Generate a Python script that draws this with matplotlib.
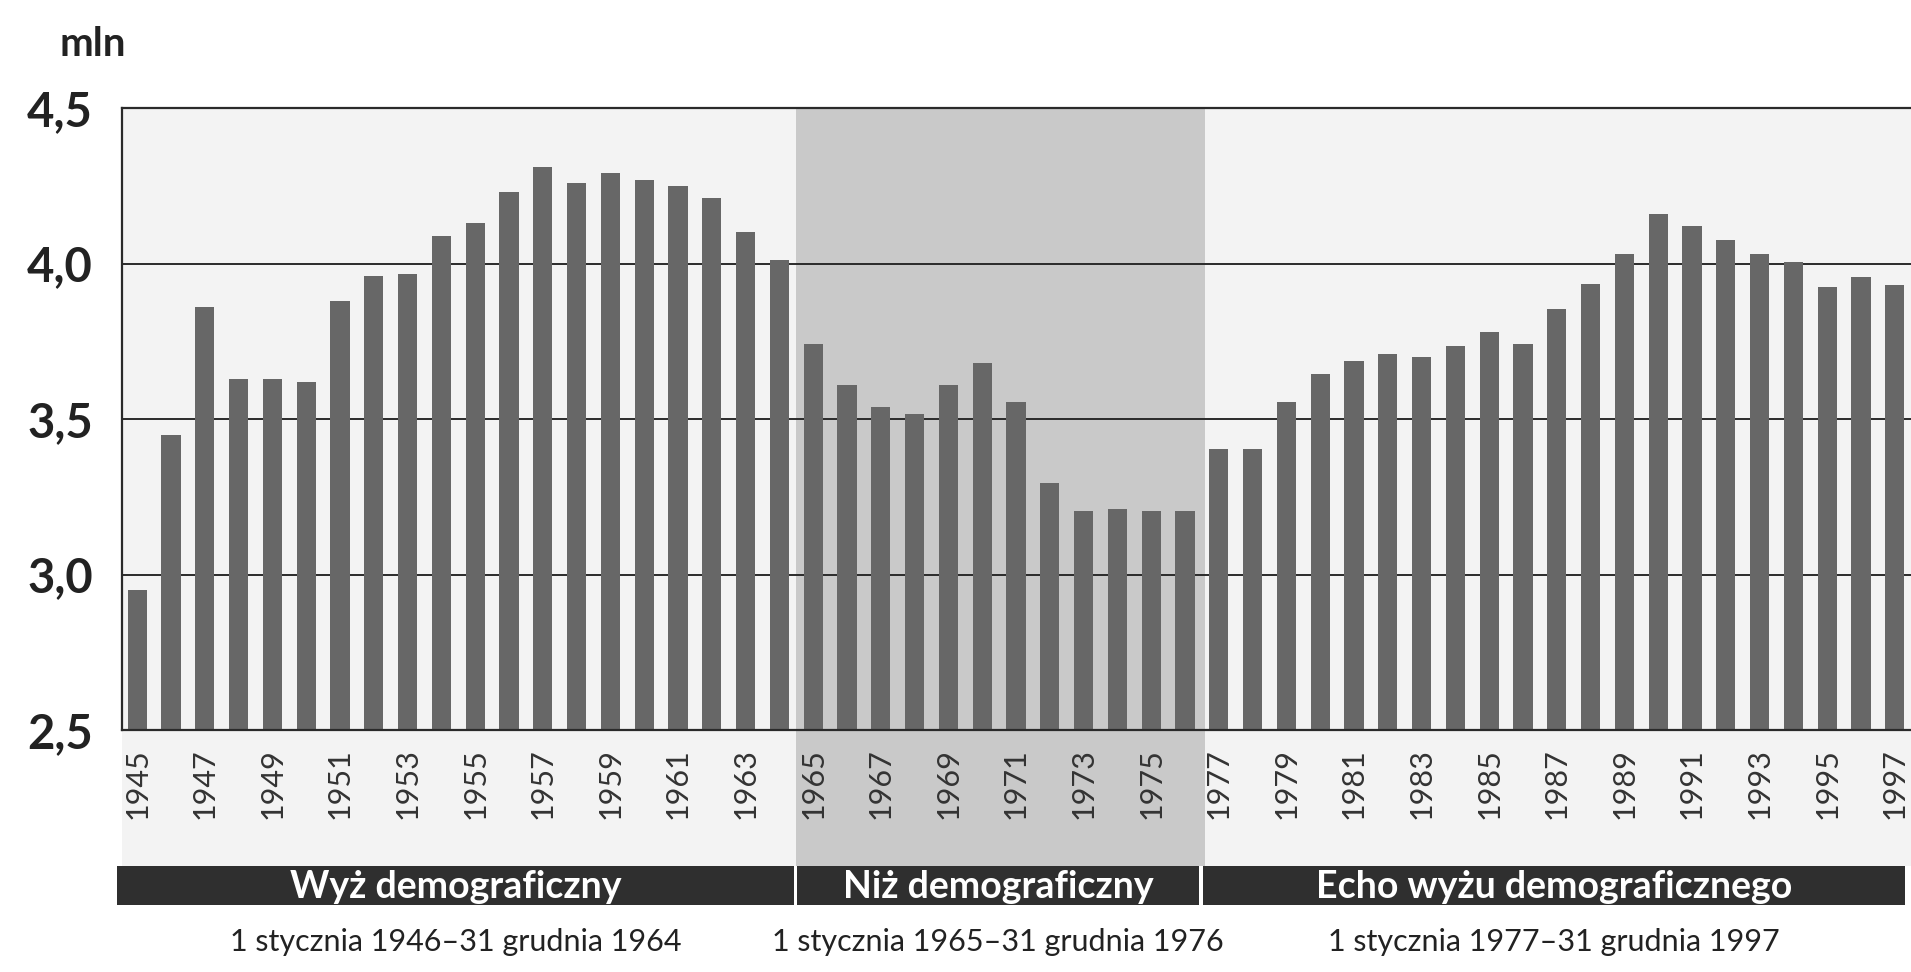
import matplotlib
matplotlib.use("Agg")
import matplotlib.pyplot as plt
from matplotlib.patches import Rectangle
import matplotlib.transforms as mtransforms

plt.rcParams['font.family'] = ['Lato', 'DejaVu Sans']

# ---- data ----
years = list(range(1945, 1998))
values = [
    2.95, 3.45, 3.86, 3.63, 3.63, 3.62, 3.88, 3.96, 3.965, 4.09,   # 1945-1954
    4.13, 4.23, 4.31, 4.26, 4.29, 4.27, 4.25, 4.21, 4.10, 4.01,    # 1955-1964
    3.74, 3.61, 3.54, 3.515, 3.61, 3.68, 3.555, 3.295, 3.205, 3.21,  # 1965-1974
    3.205, 3.205, 3.405, 3.405, 3.555, 3.645, 3.685, 3.71, 3.70, 3.735,  # 1975-1984
    3.78, 3.74, 3.855, 3.935, 4.03, 4.16, 4.12, 4.075, 4.03, 4.005,  # 1985-1994
    3.925, 3.955, 3.93,                                              # 1995-1997
]
xtick_years = list(range(1945, 1998, 2))
ytick_values = [2.5, 3.0, 3.5, 4.0, 4.5]
ytick_labels = ["2,5", "3,0", "3,5", "4,0", "4,5"]
unit_label = "mln"

period_names = ["Wyż demograficzny", "Niż demograficzny", "Echo wyżu demograficznego"]
period_dates = ["1 stycznia 1946–31 grudnia 1964",
                "1 stycznia 1965–31 grudnia 1976",
                "1 stycznia 1977–31 grudnia 1997"]
period_bounds = [(1944.4, 1964.42), (1964.52, 1976.42), (1976.52, 1997.3)]
shade_span = (1964.5, 1976.6)

# ---- figure ----
W, H = 1911, 972
fig = plt.figure(figsize=(W / 100, H / 100), dpi=100)
fig.patch.set_facecolor("white")

left_px, right_px, top_px, bottom_px = 122, 1911, 108, 730
ax = fig.add_axes([left_px / W, 1 - bottom_px / H,
                   (right_px - left_px) / W, (bottom_px - top_px) / H])
ax.set_zorder(5)
ax.set_xlim(1944.55, 1997.48)
ax.set_ylim(2.5, 4.5)
ax.set_facecolor("none")

bar_color = "#676767"
shade_color = "#c9c9c9"
bg_color = "#f3f3f3"
band_color = "#2f2f2f"

trans = mtransforms.blended_transform_factory(ax.transData, fig.transFigure)
band_top = 1 - 866 / H
band_bot = 1 - 905 / H
ax_top = 1 - top_px / H

# light background from plot top down to band
fig.patches.append(Rectangle((1944.55, band_top), 1997.48 - 1944.55, ax_top - band_top,
                             transform=trans, facecolor=bg_color, edgecolor="none",
                             zorder=0))
# shaded low period
fig.patches.append(Rectangle((shade_span[0], band_top), shade_span[1] - shade_span[0],
                             ax_top - band_top, transform=trans, facecolor=shade_color,
                             edgecolor="none", zorder=0.5))

# gridlines
for yv in ytick_values[1:-1]:
    ax.axhline(yv, color="#2a2a2a", lw=1.4, zorder=1)

ax.bar(years, [v - 2.5 for v in values], bottom=2.5, width=0.57,
       color=bar_color, zorder=2)

ax.spines["right"].set_visible(False)
for s in ["left", "top", "bottom"]:
    ax.spines[s].set_color("#2a2a2a")
    ax.spines[s].set_linewidth(1.6)

ax.set_yticks(ytick_values)
ax.set_yticklabels(ytick_labels, fontsize=34, fontweight="bold", color="#222222")
ax.tick_params(axis="y", length=0, pad=21)
ax.set_xticks(xtick_years)
ax.set_xticklabels([str(y) for y in xtick_years], rotation=90, fontsize=22,
                   color="#333333")
ax.tick_params(axis="x", length=0, pad=13)

# bands with period names
for (x0, x1), name, dates in zip(period_bounds, period_names, period_dates):
    fig.patches.append(Rectangle((x0, band_bot), x1 - x0, band_top - band_bot,
                                 transform=trans, facecolor=band_color,
                                 edgecolor="none", zorder=1))
    xc = (x0 + x1) / 2
    fig.text(xc, (band_top + band_bot) / 2 - 0.002, name, transform=trans,
             ha="center", va="center", color="white", fontsize=27,
             fontweight="bold", zorder=3)
    fig.text(xc, 1 - 942 / H, dates, transform=trans, ha="center", va="center",
             color="#222222", fontsize=22)

fig.text(60 / W, 1 - 44 / H, unit_label, ha="left", va="center", fontsize=29,
         fontweight="bold", color="#222222")

fig.savefig("out.png", dpi=100)
